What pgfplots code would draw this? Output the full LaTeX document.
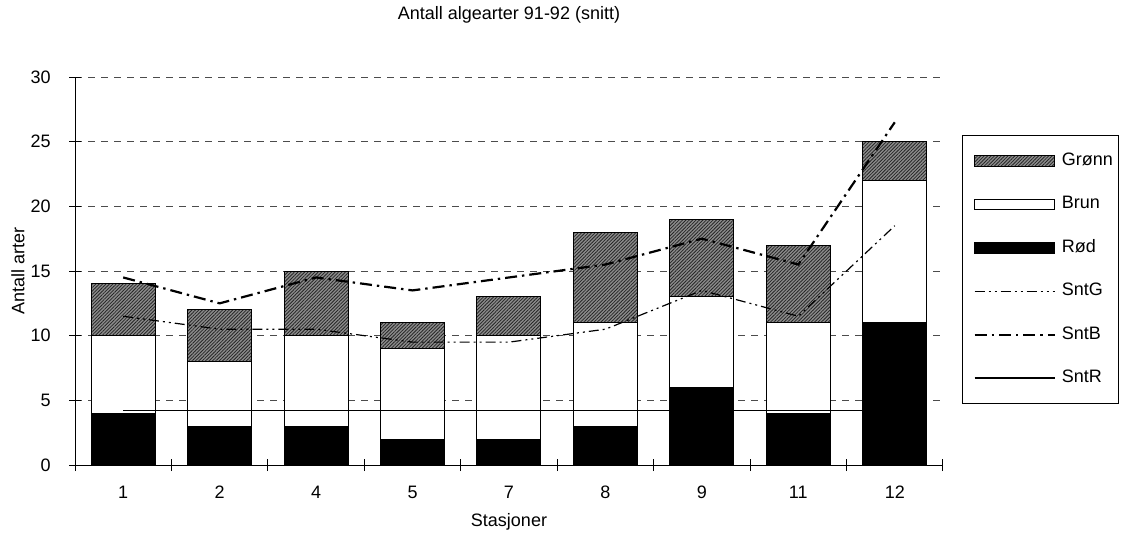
\documentclass[border=0pt]{standalone}
\usepackage{fontspec}
\setmainfont{Liberation Sans}
\usepackage{pgfplots}
\pgfplotsset{compat=1.18}
\usetikzlibrary{patterns.meta}

\pgfplotsset{
  barleg/.style={legend image code/.code={\path (0pt,0pt); \draw[##1] (2.5pt,-2.6pt) rectangle (42.5pt,2.6pt);}},
  lineleg/.style={legend image code/.code={\path (0pt,0pt); \draw[##1] (2.5pt,0pt) -- (42.5pt,0pt);}},
  groenn/.style={fill=black!45, draw=black, line width=0.5pt,
    postaction={pattern={Lines[angle=45,distance=1.2pt,line width=0.4pt]}, pattern color=black!85}},
  brun/.style={fill=white, draw=black, line width=0.5pt},
  roed/.style={fill=black, draw=black, line width=0.5pt},
  sntg/.style={black, line width=0.6pt, dash pattern=on 5pt off 2pt on 1pt off 2pt on 1pt off 2pt},
  sntb/.style={black, line width=1.1pt, dash pattern=on 6pt off 2.5pt on 1.2pt off 2.5pt},
  sntr/.style={black, line width=0.7pt},
  frame/.style={at={(0pt,0pt)}, anchor=south west,
    scale only axis, width=434pt, height=194pt,
    xmin=-0.5, xmax=8.5, ymin=0, ymax=30},
}

\begin{document}
\begin{tikzpicture}[font=\fontsize{9}{10.8}\selectfont]
\useasboundingbox (-37.5pt,-35.5pt) rectangle (524pt,232.5pt);
\begin{axis}[
  frame,
  ybar stacked, bar width=32pt,
  axis lines=left, axis line style={-, black, line width=0.5pt},
  ytick={0,5,...,30},
  xtick={-0.5,0.5,...,8.5}, xticklabels={},
  extra x ticks={0,1,...,8},
  extra x tick labels={1,2,4,5,7,8,9,11,12},
  extra x tick style={major tick length=0pt},
  tick align=center, major tick length=6pt,
  tick style={black, line width=0.5pt},
  ymajorgrids, grid style={black!70, line width=0.5pt, dash pattern=on 3.5pt off 3pt},
  /pgf/number format/assume math mode=true,
  tick label style={font=\fontsize{9}{10.8}\selectfont, inner sep=0pt},
  xticklabel style={anchor=base, yshift=-16.7pt},
  yticklabel style={anchor=east, xshift=-9pt},
  xlabel={Stasjoner},
  xlabel style={at={(axis description cs:0.5,-0.147)}, anchor=center, inner sep=0pt},
  ylabel={Antall arter},
  ylabel style={at={(axis description cs:-0.0657,0.5)}, anchor=center, inner sep=0pt},
  legend style={at={(axis description cs:1.022,0.8505)}, anchor=north west,
    draw=black, line width=0.5pt, fill=white, inner xsep=3pt, inner ysep=8.5pt,
    row sep=13.2pt, column sep=3pt,
    nodes={inner sep=0pt, text height=6.5pt, text depth=2pt},
    font=\fontsize{9}{10.8}\selectfont},
  legend cell align=left,
]
% Rød, Brun, Grønn stacked
\addplot[roed, forget plot] coordinates {(0,4) (1,3) (2,3) (3,2) (4,2) (5,3) (6,6) (7,4) (8,11)};
\addplot[brun, forget plot] coordinates {(0,6) (1,5) (2,7) (3,7) (4,8) (5,8) (6,7) (7,7) (8,11)};
\addplot[groenn, forget plot] coordinates {(0,4) (1,4) (2,5) (3,2) (4,3) (5,7) (6,6) (7,6) (8,3)};
% legend
\addlegendimage{barleg, groenn}
\addlegendentry{Grønn}
\addlegendimage{barleg, brun}
\addlegendentry{Brun}
\addlegendimage{barleg, roed}
\addlegendentry{Rød}
\addlegendimage{lineleg, sntg}
\addlegendentry{SntG}
\addlegendimage{lineleg, sntb}
\addlegendentry{SntB}
\addlegendimage{lineleg, sntr}
\addlegendentry{SntR}
\end{axis}
% averages, drawn on top of the bars
\begin{axis}[frame, hide axis]
\addplot[sntr] coordinates {(0,4.22) (1,4.22) (2,4.22) (3,4.22) (4,4.22) (5,4.22) (6,4.22) (7,4.22) (8,4.22)};
\addplot[sntg] coordinates {(0,11.5) (1,10.5) (2,10.5) (3,9.5) (4,9.5) (5,10.5) (6,13.5) (7,11.5) (8,18.5)};
\addplot[sntb] coordinates {(0,14.5) (1,12.5) (2,14.5) (3,13.5) (4,14.5) (5,15.5) (6,17.5) (7,15.5) (8,26.5)};
\end{axis}
\node at (217pt,225pt) {Antall algearter 91-92 (snitt)};
\end{tikzpicture}
\end{document}
